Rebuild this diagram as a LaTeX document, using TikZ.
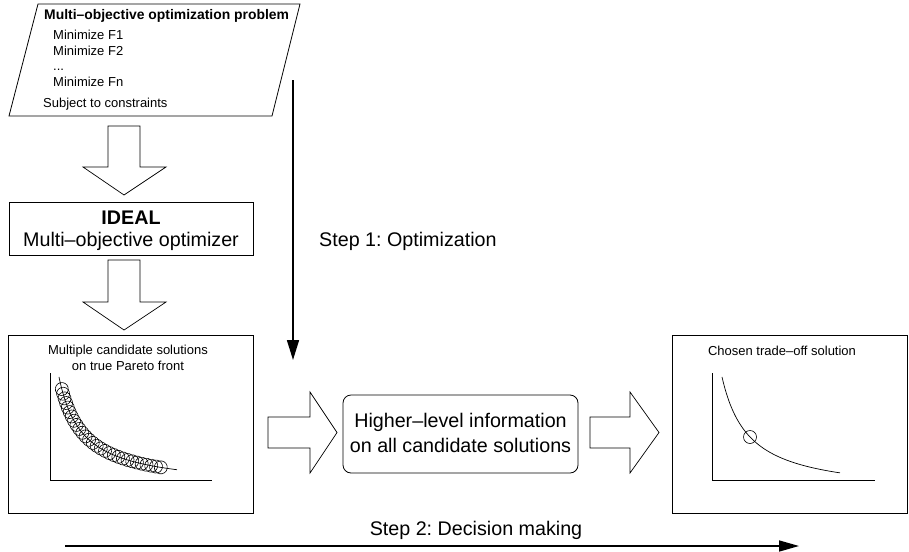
\documentclass[tikz,border=0pt]{standalone}
\usepackage{fontspec}
\setmainfont{Liberation Sans}
\usetikzlibrary{arrows.meta,decorations.markings}
\frenchspacing
\begin{document}
\begin{tikzpicture}[x=1pt,y=-1pt,
  box/.style={draw=black,line width=0.8pt},
  blockarr/.style={draw=black,line width=0.7pt,fill=white},
  small/.style={inner sep=0pt,font=\fontsize{13}{15}\selectfont},
  smallb/.style={inner sep=0pt,font=\fontsize{13.9}{15}\selectfont\bfseries},
  big/.style={inner sep=0pt,font=\fontsize{19.7}{23}\selectfont},
  bigb/.style={inner sep=0pt,font=\fontsize{19.7}{23}\selectfont\bfseries},
  steparrow/.style={line width=1.6pt,-{Triangle[length=20pt,width=12pt]}},
  curve/.style={line width=0.7pt},
  axis/.style={line width=0.8pt},
  ring/.style={line width=0.6pt}]
\useasboundingbox (0,0) rectangle (909,551);

% problem parallelogram
\coordinate (p1) at (38,4);
\coordinate (p2) at (300,4);
\coordinate (p3) at (272,116);
\coordinate (p4) at (9,116);
\draw[box] (p1) -- (p2) -- (p3) -- (p4) -- cycle;
\node[smallb,anchor=base west] (ptitle) at (44,20) {Multi--objective optimization problem};
\node[small,anchor=base west] (pf1) at (53,39.5) {Minimize F1};
\node[small,anchor=base west] (pf2) at (53,55.5) {Minimize F2};
\node[small,anchor=base west] (pdots) at (53,70.5) {...};
\node[small,anchor=base west] (pfn) at (53,86.5) {Minimize Fn};
\node[small,anchor=base west] (psub) at (43,107.5) {Subject to constraints};

% block arrow 1 (down)
\draw[blockarr] (108,126) -- (140,126) -- (140,167) -- (166,167) -- (124,195) -- (83,167) -- (108,167) -- cycle;

% IDEAL box
\node[box,minimum width=244pt,minimum height=53pt,inner sep=0pt] (ideal) at (131,228.5) {};
\node[bigb,anchor=base] (idealt) at (131,224) {IDEAL};
\node[big,anchor=base] (idealm) at (131,246.5) {Multi--objective optimizer};

% block arrow 2 (down)
\draw[blockarr] (108,260) -- (140,260) -- (140,302) -- (166,302) -- (124,330) -- (83,302) -- (108,302) -- cycle;

% left result box
\node[box,minimum width=245pt,minimum height=178pt,inner sep=0pt] (cand) at (130.5,424) {};
\node[small,anchor=base] (candt1) at (128,354) {Multiple candidate solutions};
\node[small,anchor=base] (candt2) at (128,370.5) {on true Pareto front};
\coordinate (la0) at (50,373);
\coordinate (la1) at (50,480);
\coordinate (la2) at (212,480);
\draw[axis] (la0) -- (la1) -- (la2);
\draw[curve, postaction={decorate, decoration={markings,
   mark=between positions 0.075 and 0.905 step 0.0295 with {\draw[ring] (0,0) circle[radius=6.5pt];}}}]
   plot[domain=59:177, samples=90] (\x, {487.8 - 2549/(\x-36)});

% step 1 arrow
\coordinate (s1a) at (293,80);
\coordinate (s1b) at (293,360);
\draw[steparrow] (s1a) -- (s1b);
\node[big,anchor=base west] (s1t) at (319,246.5) {Step 1: Optimization};

% block arrow 3 (right)
\draw[blockarr] (268,417) -- (310,417) -- (310,392) -- (337,432.5) -- (310,473) -- (310,448) -- (268,448) -- cycle;

% higher-level box
\node[box,rounded corners=8pt,minimum width=235pt,minimum height=78pt,inner sep=0pt] (info) at (460.5,434) {};
\node[big,anchor=base] (infot1) at (460.5,427) {Higher--level information};
\node[big,anchor=base] (infot2) at (460.5,452) {on all candidate solutions};

% block arrow 4 (right)
\draw[blockarr] (590,417) -- (630,417) -- (630,392) -- (659,432.5) -- (630,473) -- (630,448) -- (590,448) -- cycle;

% right result box
\node[box,minimum width=235pt,minimum height=178pt,inner sep=0pt] (chosen) at (789.5,424) {};
\node[small,anchor=base] (chosent) at (782,355) {Chosen trade--off solution};
\coordinate (ra0) at (712,373);
\coordinate (ra1) at (712,480);
\coordinate (ra2) at (875,480);
\draw[axis] (ra0) -- (ra1) -- (ra2);
\draw[curve] plot[domain=722:840, samples=80] (\x, {494.8 - 3181/(\x-695)});
\node[ring,draw,circle,minimum size=13pt,inner sep=0pt] (pick) at (750,437) {};

% step 2 arrow
\coordinate (s2a) at (65,546);
\coordinate (s2b) at (799,546);
\draw[line width=1.6pt,-{Triangle[length=20pt,width=11pt]}] (s2a) -- (s2b);
\node[big,anchor=base] (s2t) at (476,535) {Step 2: Decision making};
\end{tikzpicture}
\end{document}
